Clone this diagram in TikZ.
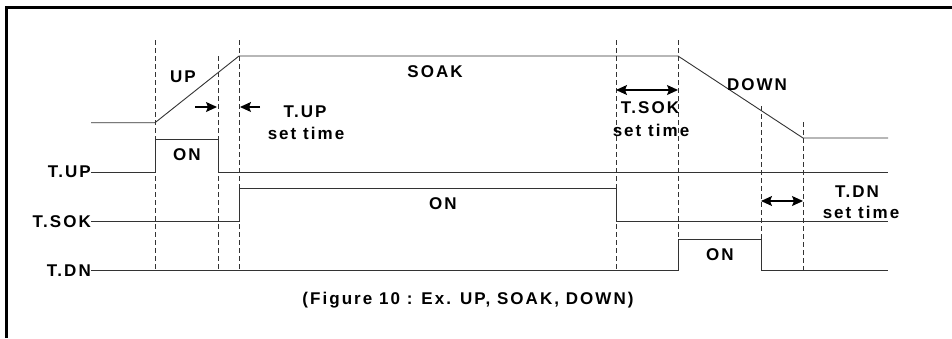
\documentclass[tikz,border=0pt]{standalone}
\usepackage{fontspec}
\setmainfont{Liberation Sans}[LetterSpace=12]
\usetikzlibrary{arrows.meta}
\begin{document}
\begin{tikzpicture}[x=1pt,y=-1pt,
  sig/.style={line width=0.9pt, black!80},
  guide/.style={line width=0.9pt, dash pattern=on 5pt off 3pt, black!80},
  lbl/.style={font=\fontsize{17}{20}\selectfont\bfseries, text=black, inner sep=0pt, align=center},
  dimarrow/.style={line width=1.1pt, {Stealth[length=11pt,width=10pt,inset=2pt]}-{Stealth[length=11pt,width=10pt,inset=2pt]}},
  ptr/.style={line width=1.1pt, -{Stealth[length=11pt,width=10pt,inset=2pt]}}]
\useasboundingbox (0,0) rectangle (952,338);
\fill[white] (0,0) rectangle (952,338);
% frame
\draw[line width=3pt] (6,338) -- (6,7) -- (952,7);
% guide lines
\foreach \x/\t in {155/40, 218/56, 239/40, 616/40, 678/40, 761/106, 803/122}
  \draw[guide] (\x,\t) -- (\x,270.7);
% temperature profile
\draw[sig] (91,122.7) -- (155,122.7) -- (239,56) -- (678,56) -- (803,138) -- (888,138);
% T.UP
\draw[sig] (91,172.7) -- (155,172.7) -- (155,139) -- (218,139) -- (218,172.7) -- (888,172.7);
% T.SOK
\draw[sig] (91,221.7) -- (239,221.7) -- (239,188.7) -- (616,188.7) -- (616,221.7) -- (888,221.7);
% T.DN
\draw[sig] (91,270.7) -- (678,270.7) -- (678,239) -- (761,239) -- (761,270.7) -- (888,270.7);
% channel labels
\node[lbl, anchor=east] (lup) at (91,172.2) {T.UP};
\node[lbl, anchor=east] (lsok) at (91,221.2) {T.SOK};
\node[lbl, anchor=east] (ldn) at (91,270.2) {T.DN};
% arrows
\coordinate (a1s) at (195,107); \coordinate (a1e) at (217,107);
\coordinate (a2s) at (260,107); \coordinate (a2e) at (240,107);
\draw[ptr] (a1s) -- (a1e);
\draw[ptr] (a2s) -- (a2e);
\coordinate (s1) at (616,90); \coordinate (s2) at (678,90);
\draw[dimarrow] (s1) -- (s2);
\coordinate (d1) at (761,201); \coordinate (d2) at (803,201);
\draw[dimarrow] (d1) -- (d2);
% texts
\node[lbl] (up) at (183,77) {UP};
\node[lbl] (on1) at (187,155) {ON};
\node[lbl] (tup) at (305,112) {T.UP};
\node[lbl] (tups) at (306,133) {set time};
\node[lbl] (soak) at (435,72) {SOAK};
\node[lbl] (on2) at (443,204) {ON};
\node[lbl] (tsok) at (650,108) {T.SOK};
\node[lbl] (tsoks) at (651,130) {set time};
\node[lbl] (down) at (757,85) {DOWN};
\node[lbl] (tdn) at (857,192) {T.DN};
\node[lbl] (tdns) at (861,212) {set time};
\node[lbl] (on3) at (720,255) {ON};
\node[lbl] (cap) at (468,300) {(Figure 10 : Ex. UP, SOAK, DOWN)};
\end{tikzpicture}
\end{document}
